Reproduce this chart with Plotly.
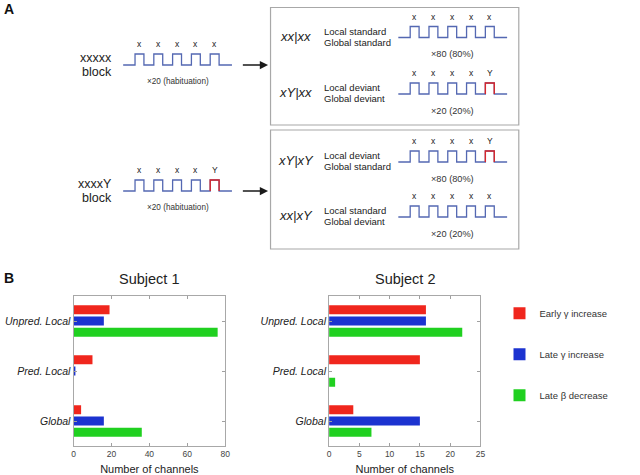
import plotly.graph_objects as go

# ---------------- data: panel B ----------------
categories = ["Unpred. Local", "Pred. Local", "Global"]
series_names = ["Early γ increase", "Late γ increase", "Late β decrease"]
subj1_early_gamma = [19, 10, 4]
subj1_late_gamma = [16, 1, 16]
subj1_late_beta = [76, 0, 36]
subj2_early_gamma = [16, 15, 4]
subj2_late_gamma = [16, 0, 15]
subj2_late_beta = [22, 1, 7]
subj1_ticks = [0, 20, 40, 60, 80]
subj2_ticks = [0, 5, 10, 15, 20, 25]
bar_colors = ["#f0261d", "#1c33d0", "#20d020"]

# ---------------- data: panel A (schematic) ----------------
block_sequences = ["xxxxx", "xxxxY"]
block_names = ["xxxxx", "xxxxY"]
block_caption = "×20 (habituation)"
cond_names = ["xx|xx", "xY|xx", "xY|xY", "xx|xY"]
cond_local = ["Local standard", "Local deviant", "Local deviant", "Local standard"]
cond_global = ["Global standard", "Global deviant", "Global standard", "Global deviant"]
cond_sequences = ["xxxxx", "xxxxY", "xxxxY", "xxxxx"]
cond_counts = ["×80 (80%)", "×20 (20%)", "×80 (80%)", "×20 (20%)"]

FONT = "Liberation Sans, Arial, Helvetica, sans-serif"
WAVE_BLUE = "#5468b2"
WAVE_RED = "#d8262a"
TXT = "#222222"

W, H = 640, 475

fig = go.Figure()

# ---- bars ----
subj_data = [
    (subj1_early_gamma, subj1_late_gamma, subj1_late_beta),
    (subj2_early_gamma, subj2_late_gamma, subj2_late_beta),
]
for s, vals in enumerate(subj_data):
    xa = "x" if s == 0 else "x2"
    ya = "y" if s == 0 else "y2"
    for k in range(3):
        fig.add_trace(go.Bar(
            y=categories, x=vals[k], orientation="h",
            name=series_names[k], legendgroup=series_names[k],
            showlegend=(s == 0),
            marker=dict(color=bar_colors[k], line=dict(width=0)),
            xaxis=xa, yaxis=ya, hoverinfo="skip",
        ))

# ---- schematic on a full-figure pixel axis ----
def wave_path(seq, x0, base, h=11, period=19, first=16.5, half=4.5, length=110):
    xs, ys = [x0], [base]
    reds = []
    for i, ch in enumerate(seq):
        c = x0 + first + period * i
        xs += [c - half, c - half, c + half, c + half]
        ys += [base, base - h, base - h, base]
        if ch == "Y":
            reds.append(([c - half, c - half, c + half, c + half], [base, base - h, base - h, base]))
    xs.append(x0 + length)
    ys.append(base)
    return xs, ys, reds

annotations = []
shapes = []

def txt(x, y, s, size, xanchor="center", color=TXT, italic=False, bold=False):
    if italic:
        s = "<i>" + s + "</i>"
    if bold:
        s = "<b>" + s + "</b>"
    annotations.append(dict(
        x=x, y=y, xref="x3", yref="y3", text=s, showarrow=False,
        xanchor=xanchor, yanchor="middle",
        font=dict(family=FONT, size=size, color=color),
    ))

def add_wave(seq, x0, base, cap, cap_size):
    xs, ys, reds = wave_path(seq, x0, base)
    fig.add_trace(go.Scatter(x=xs, y=ys, mode="lines", line=dict(color=WAVE_BLUE, width=1.3),
                             xaxis="x3", yaxis="y3", showlegend=False, hoverinfo="skip"))
    for rx, ry in reds:
        fig.add_trace(go.Scatter(x=rx, y=ry, mode="lines", line=dict(color=WAVE_RED, width=1.4),
                                 xaxis="x3", yaxis="y3", showlegend=False, hoverinfo="skip"))
    for i, ch in enumerate(seq):
        c = x0 + 16.5 + 19 * i
        txt(c, base - 21, ch.lower() if ch == "x" else ch, 8.5)
    txt(x0 + 55, base + 16.5, cap, cap_size, color="#333333")

# left blocks
block_bases = [65, 191]
for b in range(2):
    base = block_bases[b]
    txt(113, base - 7.5, block_names[b], 12.5, xanchor="right")
    txt(113, base + 6.5, "block", 12.5, xanchor="right")
    add_wave(block_sequences[b], 122.5, base, block_caption, 8.2)
    annotations.append(dict(
        x=269, y=base, ax=242, ay=base, xref="x3", yref="y3", axref="x3", ayref="y3",
        text="", showarrow=True, arrowhead=2, arrowsize=1.1, arrowwidth=1.5, arrowcolor="#1a1a1a",
    ))

# boxes
for (y0, y1) in [(7.5, 125), (130, 249)]:
    shapes.append(dict(type="rect", xref="x3", yref="y3", x0=271.5, x1=522.5, y0=y0, y1=y1,
                       line=dict(color="#a8a8a8", width=1.2), fillcolor="rgba(0,0,0,0)"))

cond_bases = [37.5, 94, 162, 217]
for i in range(4):
    base = cond_bases[i]
    txt(297, base - 1.5, cond_names[i], 13, italic=True)
    txt(324, base - 6.5, cond_local[i], 9.5, xanchor="left")
    txt(324, base + 4.5, cond_global[i], 9.5, xanchor="left")
    add_wave(cond_sequences[i], 400.7, base, cond_counts[i], 9.2)

# panel letters and subject titles
txt(7, 9, "A", 14, bold=True, color="#111111")
txt(7, 278, "B", 14, bold=True, color="#111111")
txt(149, 279, "Subject 1", 14.5)
txt(407, 279, "Subject 2", 14.5)

# ---- layout ----
def px_x(a, b):
    return [a / W, b / W]
def px_y(top, bottom):
    return [1 - bottom / H, 1 - top / H]

axis_common = dict(showgrid=False, zeroline=False, showline=True, mirror="ticks",
                   linecolor="#a8a8a8", linewidth=1, ticks="inside", ticklen=3,
                   tickcolor="#a0a0a0")
xcommon = dict(axis_common, tickfont=dict(family=FONT, size=8.5, color="#444444"),
               title=dict(text="Number of channels", font=dict(family=FONT, size=11, color=TXT), standoff=7))
ycommon = dict(axis_common, type="category", categoryorder="array", categoryarray=categories,
               range=[2.5, -0.5], tickfont=dict(family=FONT, size=10.5, color=TXT),
               tickmode="array", tickvals=categories,
               ticktext=["<i>" + c + "</i>" for c in categories])

fig.update_layout(
    width=W, height=H, autosize=False,
    margin=dict(l=0, r=0, t=0, b=0, pad=0),
    paper_bgcolor="white", plot_bgcolor="rgba(0,0,0,0)",
    barmode="group", bargap=0.33, bargroupgap=0.2,
    font=dict(family=FONT, color=TXT),
    xaxis=dict(xcommon, domain=px_x(72.3, 225.7), range=[0, 80], tickvals=subj1_ticks, anchor="y"),
    yaxis=dict(ycommon, domain=px_y(296, 446), anchor="x"),
    xaxis2=dict(xcommon, domain=px_x(330.7, 483.7), range=[0, 25], tickvals=subj2_ticks, anchor="y2"),
    yaxis2=dict(ycommon, domain=px_y(296, 446), anchor="x2"),
    xaxis3=dict(domain=[0, 1], range=[0, W], visible=False, fixedrange=True, anchor="y3"),
    yaxis3=dict(domain=[0, 1], range=[H, 0], visible=False, fixedrange=True, anchor="x3"),
    legend=dict(x=503 / W, y=1 - 298.7 / H, xanchor="left", yanchor="top",
                font=dict(family=FONT, size=9.5, color="#333333"),
                traceorder="grouped", tracegroupgap=22, bgcolor="rgba(0,0,0,0)"),
    annotations=annotations,
    shapes=shapes,
)

fig.write_html("out.html",
               config={"displayModeBar": False, "staticPlot": True},
               post_script="document.body.style.margin='0px';document.body.style.overflow='hidden';")
